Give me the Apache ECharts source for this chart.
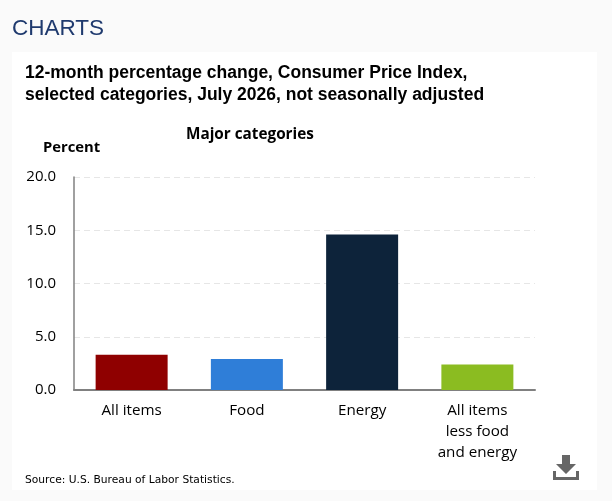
<!DOCTYPE html>
<html><head><meta charset="utf-8">
<style>html,body{margin:0;padding:0;background:#fafafa}#c{width:612px;height:501px}</style>
<script src="https://cdn.jsdelivr.net/npm/echarts@6/dist/echarts.min.js"></script>
</head><body><div id="c"></div>
<script>
const categories = ['All items', 'Food', 'Energy', 'All items\nless food\nand energy'];
const values = [3.3, 2.9, 14.6, 2.4];
const barColors = ['#8f0000', '#2f7ed8', '#0d233a', '#8bbc21'];
const tickLabels = {0:'0.0',5:'5.0',10:'10.0',15:'15.0',20:'20.0'};
const labelFont = '"Open Sans"';
const chart = echarts.init(document.getElementById('c'), null, {renderer:'canvas'});
chart.setOption({
  animation:false,
  backgroundColor:'#fafafa',
  grid:{left:74,right:77,top:177,bottom:111,containLabel:false},
  xAxis:{type:'category',data:categories,
    axisLine:{lineStyle:{color:'#808080',width:2}},axisTick:{show:false},
    axisLabel:{color:'#000',fontFamily:labelFont,fontSize:15.2,lineHeight:21,margin:10,interval:0}},
  yAxis:{type:'value',min:0,max:20,interval:5,
    axisLine:{show:true,lineStyle:{color:'#808080',width:1.5}},axisTick:{show:false},
    splitLine:{lineStyle:{color:'#e6e6e6',type:[6,4],width:1}},
    axisLabel:{color:'#000',fontFamily:labelFont,fontSize:15,margin:18,padding:[4,0,0,0],formatter:v=>tickLabels[v]}},
  series:[{type:'bar',data:values.map((v,i)=>({value:v,itemStyle:{color:barColors[i]}})),barWidth:72}],
  graphic:[
    {type:'rect',z:-1,silent:true,shape:{x:12,y:52,width:585,height:438},style:{fill:'#fff'}},
    {type:'text',x:12,y:17,style:{text:'CHARTS',fill:'#1f3a6e',font:'22.5px "Liberation Sans"'}},
    {type:'text',x:25,y:62,style:{text:'12-month percentage change, Consumer Price Index,\nselected categories, July 2026, not seasonally adjusted',fill:'#000',font:'bold 17.5px "Liberation Sans"',lineHeight:22}},
    {type:'text',x:186,y:127,style:{text:'Major categories',fill:'#000',font:'bold 15.3px '+labelFont}},
    {type:'text',x:43,y:140,style:{text:'Percent',fill:'#000',font:'bold 14.8px '+labelFont}},
    {type:'text',x:25,y:475,style:{text:'Source: U.S. Bureau of Labor Statistics.',fill:'#000',font:'10.7px "DejaVu Sans"'}},
    {type:'polygon',shape:{points:[[562,455],[570,455],[570,464],[576,464],[566,474],[556,464],[562,464]]},style:{fill:'#666'}},
    {type:'polygon',shape:{points:[[553,471],[556,471],[556,477],[576,477],[576,471],[579,471],[579,480],[553,480]]},style:{fill:'#666'}}
  ]
});
</script></body></html>
